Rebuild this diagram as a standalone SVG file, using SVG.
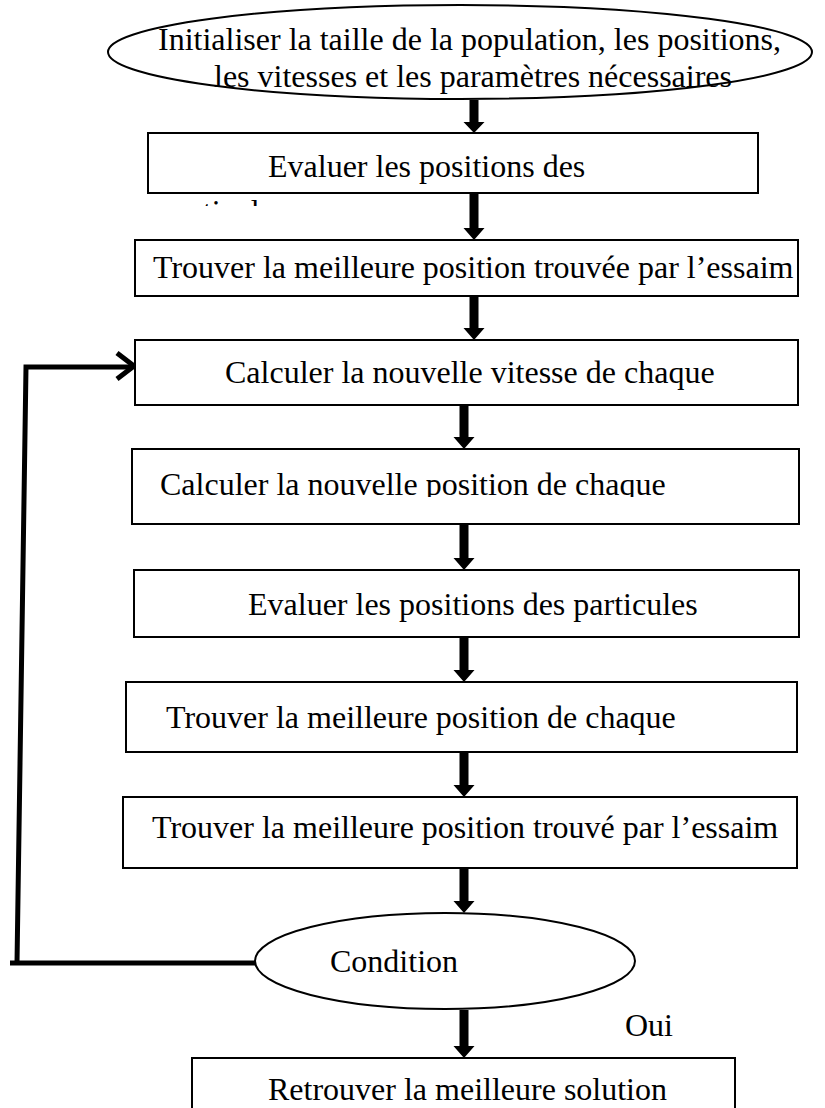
<svg xmlns="http://www.w3.org/2000/svg" width="825" height="1108" viewBox="0 0 825 1108">
<style>
.box{fill:#fff;stroke:#000;stroke-width:2}
.t{font-family:"Liberation Serif","Times New Roman",serif;font-size:32px;fill:#000}
.arr{fill:#000}
.loop{fill:none;stroke:#000;stroke-width:5;stroke-linejoin:miter}
</style>
<defs>
<clipPath id="c2"><rect x="140" y="194" width="200" height="12"/></clipPath>
<clipPath id="c5"><rect x="133" y="450" width="665" height="47"/></clipPath>
</defs>
<g id="connectors">
<path class="arr" d="M469.5,100 h9 v22 h6 l-10.5,11 l-10.5,-11 h6 z"/>
<path class="arr" d="M469.5,194 h9 v34 h6 l-10.5,12 l-10.5,-12 h6 z"/>
<path class="arr" d="M469.5,296 h9 v32 h6 l-10.5,12 l-10.5,-12 h6 z"/>
<path class="arr" d="M459.5,405 h9 v32 h6 l-10.5,12 l-10.5,-12 h6 z"/>
<path class="arr" d="M459.5,524 h9 v34 h6 l-10.5,12 l-10.5,-12 h6 z"/>
<path class="arr" d="M459.5,637 h9 v33 h6 l-10.5,12 l-10.5,-12 h6 z"/>
<path class="arr" d="M459.5,752 h9 v33 h6 l-10.5,12 l-10.5,-12 h6 z"/>
<path class="arr" d="M459.5,868 h9 v33 h6 l-10.5,12 l-10.5,-12 h6 z"/>
<path class="arr" d="M459.5,1010 h9 v36 h6 l-10.5,12 l-10.5,-12 h6 z"/>
<path class="loop" d="M256,963 H10 M17,963 L26,367 H133"/>
<path class="loop" d="M117,353 L134,366 L117,379"/>
</g>
<g id="n1">
<ellipse class="box" cx="460" cy="52" rx="352" ry="47"/>
<text class="t" x="158" y="50">Initialiser la taille de la population, les positions,</text>
<text class="t" x="214" y="87">les vitesses et les paramètres nécessaires</text>
</g>
<g id="n2">
<rect class="box" x="148" y="133" width="610" height="60"/>
<text class="t" x="268" y="177">Evaluer les positions des</text>
<text class="t" x="162" y="222" clip-path="url(#c2)">particules</text>
</g>
<g id="n3">
<rect class="box" x="135" y="240" width="663" height="56"/>
<text class="t" x="153" y="278">Trouver la meilleure position trouvée par l’essaim</text>
</g>
<g id="n4">
<rect class="box" x="135" y="340" width="663" height="65"/>
<text class="t" x="225" y="383">Calculer la nouvelle vitesse de chaque</text>
</g>
<g id="n5">
<rect class="box" x="132" y="449" width="667" height="75"/>
<text class="t" x="160" y="495" clip-path="url(#c5)">Calculer la nouvelle position de chaque</text>
</g>
<g id="n6">
<rect class="box" x="134" y="570" width="665" height="67"/>
<text class="t" x="248" y="615">Evaluer les positions des particules</text>
</g>
<g id="n7">
<rect class="box" x="126" y="682" width="671" height="70"/>
<text class="t" x="166" y="728">Trouver la meilleure position de chaque</text>
</g>
<g id="n8">
<rect class="box" x="123" y="797" width="674" height="71"/>
<text class="t" x="152" y="838">Trouver la meilleure position trouvé par l’essaim</text>
</g>
<g id="n9">
<ellipse class="box" cx="445" cy="961" rx="190" ry="48"/>
<text class="t" x="330" y="972">Condition</text>
</g>
<g id="oui">
<text class="t" x="625" y="1036">Oui</text>
</g>
<g id="n10">
<rect class="box" x="192" y="1058" width="543" height="70"/>
<text class="t" x="268" y="1100">Retrouver la meilleure solution</text>
</g>
</svg>
